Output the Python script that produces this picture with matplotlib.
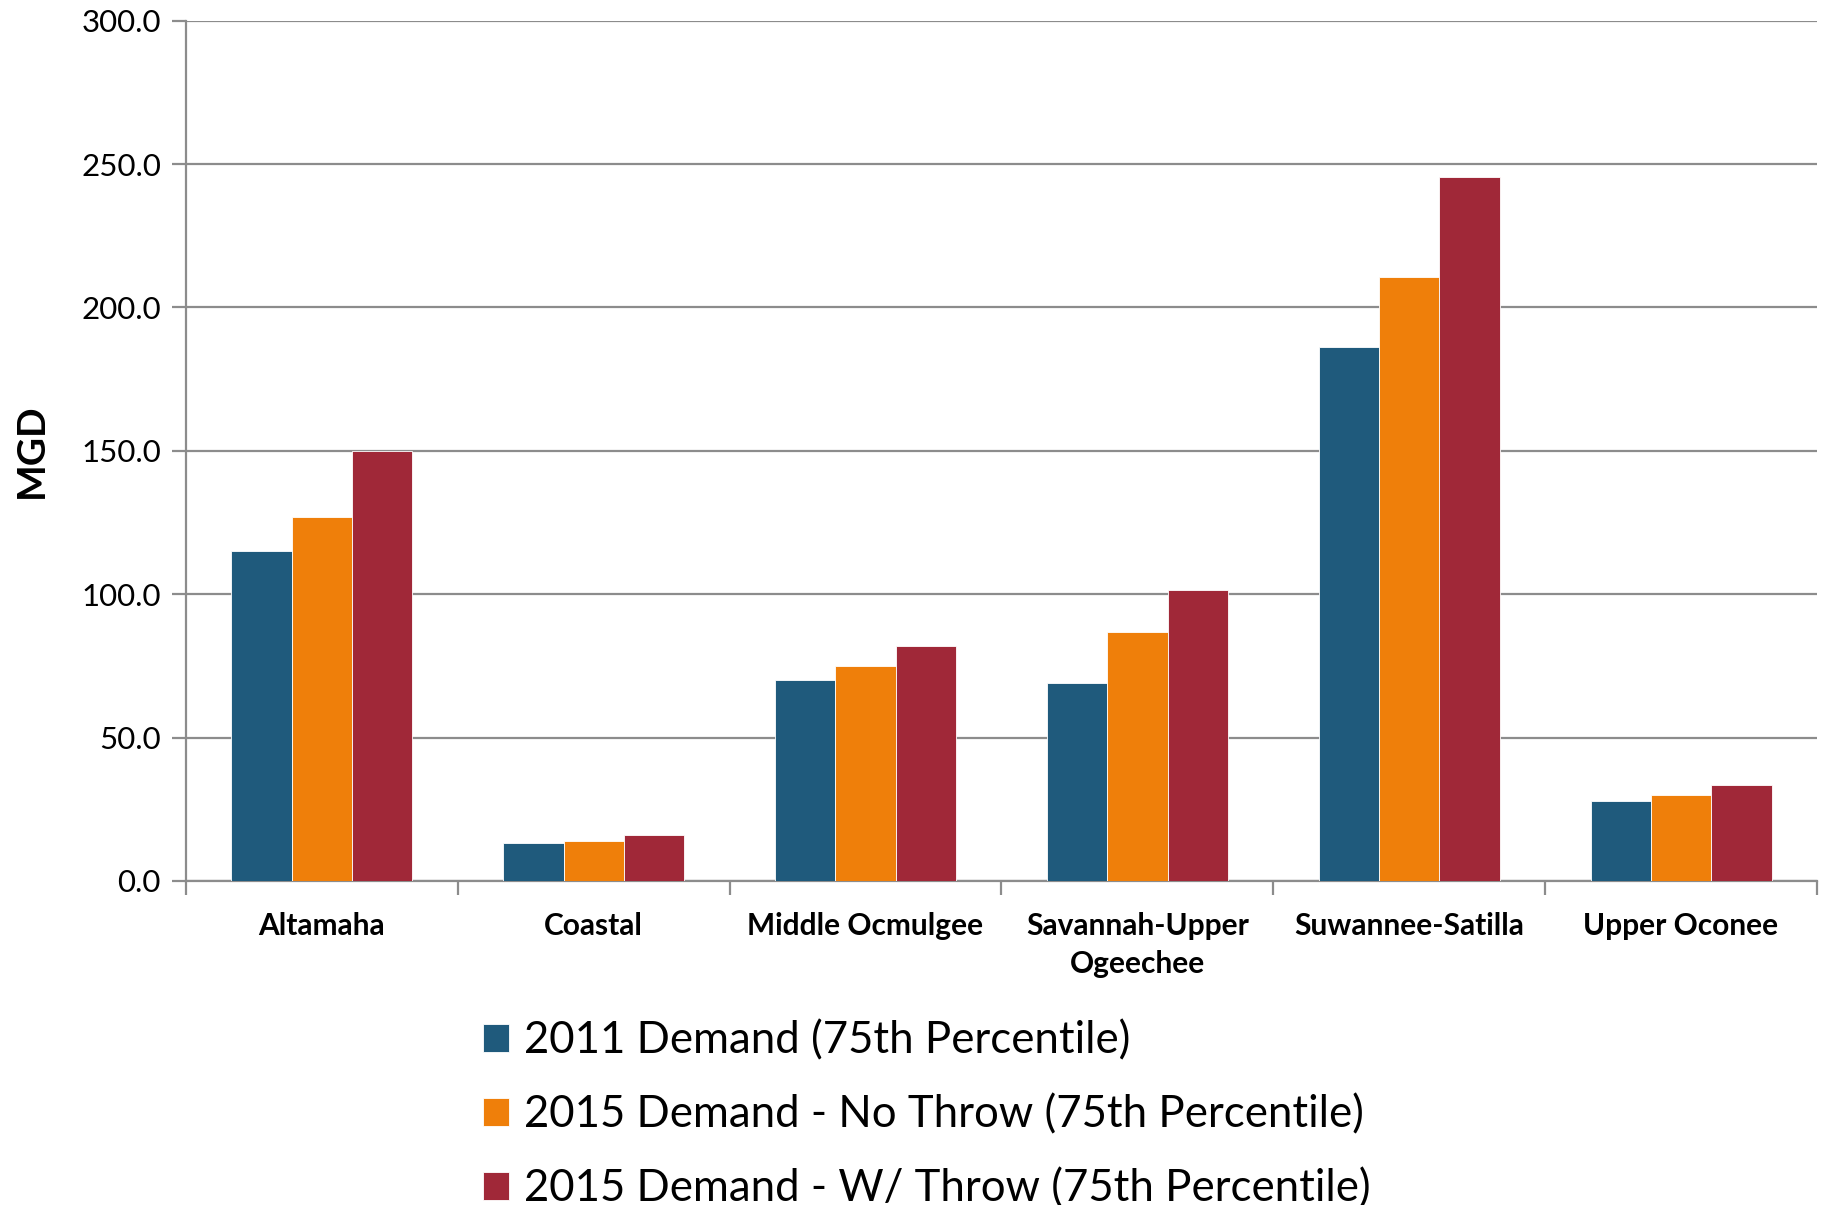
import numpy as np
import matplotlib
matplotlib.use('Agg')
import matplotlib.pyplot as plt

categories = ['Altamaha', 'Coastal', 'Middle Ocmulgee', 'Savannah-Upper\nOgeechee',
              'Suwannee-Satilla', 'Upper Oconee']
demand_2011 = [114.9, 13.2, 70.1, 69.1, 186.3, 27.9]
demand_2015_no_throw = [126.8, 14.0, 75.0, 86.9, 210.6, 30.0]
demand_2015_w_throw = [150.0, 16.1, 82.0, 101.3, 245.4, 33.5]
series_labels = ['2011 Demand (75th Percentile)',
                 '2015 Demand - No Throw (75th Percentile)',
                 '2015 Demand - W/ Throw (75th Percentile)']
colors = ['#1F5A7C', '#EF7F0A', '#A02838']

plt.rcParams['font.family'] = ['Lato', 'DejaVu Sans']

fig = plt.figure(figsize=(18.25, 12.05), dpi=100)
ax = fig.add_axes([0.1019, 0.2689, 0.8937, 0.7139])

x = np.arange(len(categories))
w = 0.222
series = [demand_2011, demand_2015_no_throw, demand_2015_w_throw]
for i, (vals, c, lab) in enumerate(zip(series, colors, series_labels)):
    ax.bar(x + (i - 1) * w, vals, width=w, color=c, label=lab,
           edgecolor='white', linewidth=0.6, zorder=3)

ax.set_xlim(-0.5, len(categories) - 0.5)
ax.set_ylim(0, 300)
ax.set_yticks(np.arange(0, 301, 50))
ax.set_yticklabels([f'{v:.1f}' for v in np.arange(0, 301, 50)], fontsize=22.5)
ax.yaxis.grid(True, color='#8c8c8c', linewidth=1.6, zorder=0)
ax.set_axisbelow(True)

ax.set_xticks(x)
ax.set_xticklabels(categories, fontsize=21.5, fontweight='bold', linespacing=1.45)
ax.set_xticks(np.arange(-0.5, len(categories)), minor=True)
ax.tick_params(axis='x', which='major', length=0, pad=22)
ax.tick_params(axis='x', which='minor', length=10, width=1.6, color='#8c8c8c')
ax.tick_params(axis='y', length=10, width=1.6, color='#8c8c8c', pad=8)

for s in ['top', 'right']:
    ax.spines[s].set_visible(False)
for s in ['left', 'bottom']:
    ax.spines[s].set_color('#8c8c8c')
    ax.spines[s].set_linewidth(1.6)

ax.set_ylabel('MGD', fontsize=28, fontweight='bold')
ax.yaxis.set_label_coords(-0.084, 0.5)

leg = fig.legend(loc='upper left', bbox_to_anchor=(0.255, 0.168), frameon=False,
                 fontsize=31.5, handlelength=0.6, handleheight=0.6,
                 handletextpad=0.35, labelspacing=0.75, borderaxespad=0)

fig.savefig('out.png', dpi=100)
